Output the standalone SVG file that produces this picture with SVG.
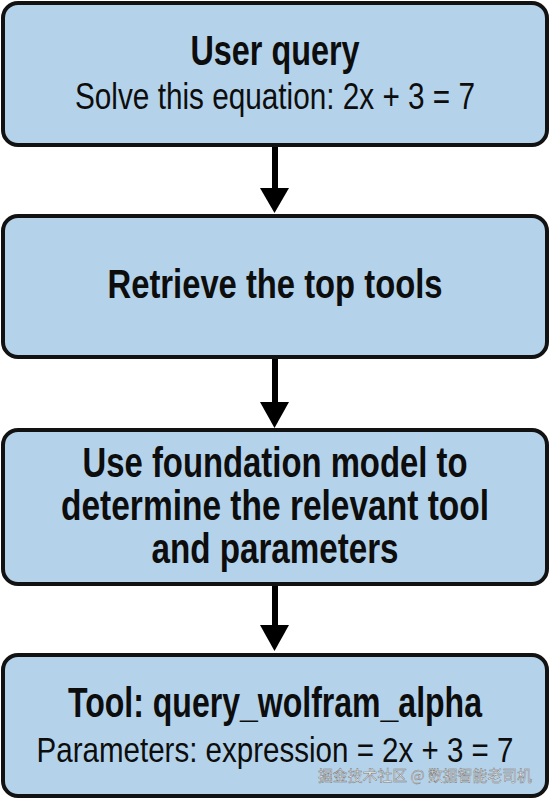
<svg xmlns="http://www.w3.org/2000/svg" width="550" height="800" viewBox="0 0 550 800">
  <defs>
    <style>
      .box { fill: #b4d3ea; stroke: #121212; stroke-width: 4; }
      .t { font-family: "Liberation Sans", Arial, sans-serif; fill: #0d0d0d; text-anchor: middle; }
      .b { font-weight: bold; font-size: 42px; }
      .r { font-weight: normal; font-size: 37px; }
      .conn { stroke: #000; stroke-width: 6; fill: none; }
      .head { fill: #000; }
      .wm { font-family: "Noto Sans CJK SC", sans-serif; font-size: 15px; fill: #f4f6f8; stroke: #7a7a7a; stroke-width: 0.5; }
    </style>
  </defs>
  <rect width="550" height="800" fill="#ffffff"/>
  <g id="connectors">
    <line class="conn" x1="275" y1="147" x2="275" y2="190"/>
    <polygon class="head" points="260,188 289,188 274.5,213"/>
    <line class="conn" x1="275" y1="359" x2="275" y2="405"/>
    <polygon class="head" points="260,402 289,402 274.5,428"/>
    <line class="conn" x1="275" y1="586" x2="275" y2="628"/>
    <polygon class="head" points="260,625 289,625 274.5,651"/>
  </g>
  <g id="node-user-query">
    <rect class="box" x="3" y="3" width="544" height="142" rx="15"/>
    <text class="t b" x="275" y="65" textLength="169" lengthAdjust="spacingAndGlyphs">User query</text>
    <text class="t r" x="275" y="109" textLength="400" lengthAdjust="spacingAndGlyphs">Solve this equation: 2x + 3 = 7</text>
  </g>
  <g id="node-retrieve">
    <rect class="box" x="3" y="216" width="544" height="141" rx="15"/>
    <text class="t b" x="275" y="298" style="font-size:40px" textLength="335" lengthAdjust="spacingAndGlyphs">Retrieve the top tools</text>
  </g>
  <g id="node-foundation-model">
    <rect class="box" x="3" y="430" width="544" height="154" rx="15"/>
    <text class="t b" x="275" y="477" textLength="385" lengthAdjust="spacingAndGlyphs">Use foundation model to</text>
    <text class="t b" x="275" y="520" textLength="428" lengthAdjust="spacingAndGlyphs">determine the relevant tool</text>
    <text class="t b" x="275" y="563" textLength="247" lengthAdjust="spacingAndGlyphs">and parameters</text>
  </g>
  <g id="node-tool">
    <rect class="box" x="3" y="655" width="544" height="141" rx="15"/>
    <text class="t b" x="275" y="717" textLength="414" lengthAdjust="spacingAndGlyphs">Tool: query_wolfram_alpha</text>
    <text class="t r" x="275" y="762" style="font-size:35px" textLength="477" lengthAdjust="spacingAndGlyphs">Parameters: expression = 2x + 3 = 7</text>
  </g>
  <text class="wm" x="318" y="781" textLength="214" lengthAdjust="spacingAndGlyphs">掘金技术社区 @ 数据智能老司机</text>
</svg>
